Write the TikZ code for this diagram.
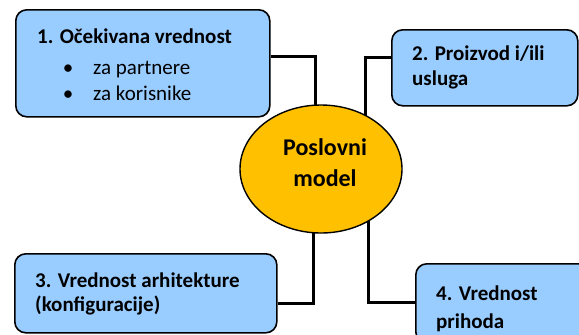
\documentclass[tikz,border=0pt]{standalone}
\usepackage{fontspec}
\setmainfont{Carlito}
\usetikzlibrary{shapes.geometric,calc}
\pgfdeclarelayer{background}
\pgfsetlayers{background,main}
\definecolor{boxblue}{HTML}{99CCFF}
\definecolor{coreorange}{HTML}{FFC000}
\begin{document}
\begin{tikzpicture}[x=1bp,y=-1bp,
  box/.style={draw=black, line width=1.6bp, fill=boxblue, rounded corners=11bp,
    inner sep=0pt, anchor=north west},
  core/.style={ellipse, draw=black, line width=1.4bp, fill=coreorange, inner sep=0pt},
  conn/.style={draw=black, line width=3bp},
  head/.style={anchor=base west, inner sep=0pt, font=\fontsize{21bp}{24bp}\selectfont\bfseries},
  item/.style={anchor=base west, inner sep=0pt, font=\fontsize{21bp}{24bp}\selectfont},
  dot/.style={anchor=base, inner sep=0pt, font=\fontsize{21bp}{24bp}\selectfont},
  corelabel/.style={anchor=base, inner sep=0pt, font=\fontsize{24bp}{28bp}\selectfont\bfseries}]
\useasboundingbox (0,0) rectangle (579,334);
\clip (0,0) rectangle (579,334);

% the four building blocks
\node[box, minimum width=254bp, minimum height=107bp] (b1) at (15,9) {};
\node[box, minimum width=186bp, minimum height=76bp] (b2) at (391,29) {};
\node[box, minimum width=262bp, minimum height=79bp] (b3) at (14,253) {};
\node[box, minimum width=180bp, minimum height=79bp] (b4) at (415,263) {};

% central element
\node[core, minimum width=162bp, minimum height=128bp] (pm) at (321,169) {};

% connectors, kept behind the shapes
\begin{pgfonlayer}{background}
\draw[conn] ([yshift=6.5bp]b1.east) -| ($(pm.center)+(-6,0)$);
\draw[conn] ([yshift=10bp]b2.west) -| ($(pm.center)+(44,0)$);
\draw[conn] ([yshift=-10bp]b3.east) -| ($(pm.center)+(-8,0)$);
\draw[conn] ([yshift=1bp]b4.west) -| ($(pm.center)+(47,0)$);
\end{pgfonlayer}

% labels
\node[head] (t1) at (37,43.3) {1. Očekivana vrednost};
\node[dot] (d1) at (68,74) {•};
\node[item] (i1) at (93,74) {za partnere};
\node[dot] (d2) at (68,100) {•};
\node[item] (i2) at (93,100) {za korisnike};

\node[head] (t2a) at (412,60.7) {2. Proizvod i/ili};
\node[head] (t2b) at (412,85) {usluga};

\node[head] (t3a) at (35,287.3) {3. Vrednost arhitekture};
\node[head] (t3b) at (35,311.5) {(konfiguracije)};

\node[head] (t4a) at (436,300) {4. Vrednost};
\node[head] (t4b) at (436,328) {prihoda};

\node[corelabel] (c1) at (325,155) {Poslovni};
\node[corelabel] (c2) at (325,186.7) {model};
\end{tikzpicture}
\end{document}
